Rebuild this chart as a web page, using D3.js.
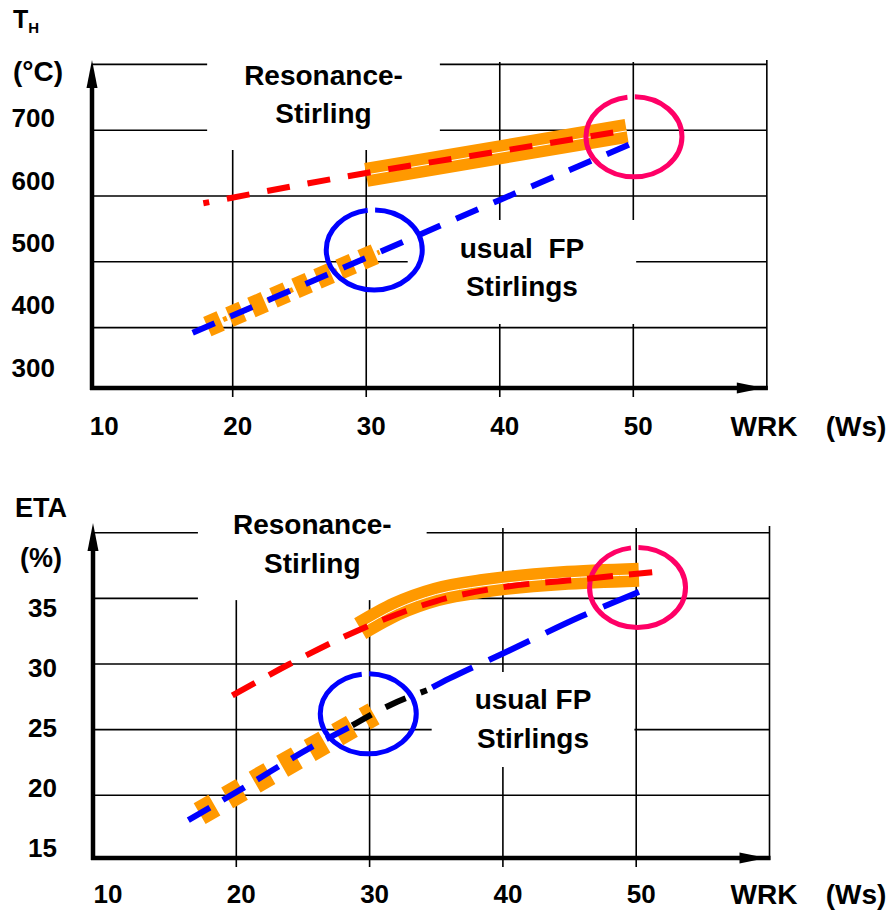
<!DOCTYPE html>
<html>
<head>
<meta charset="utf-8">
<title>Resonance-Stirling vs usual FP Stirlings</title>
<script src="https://cdn.jsdelivr.net/npm/d3@7"></script>
<style>
body { margin: 0; background: #fff; }
svg text { font-family: "Liberation Sans", Arial, sans-serif; font-weight: bold; fill: #000; }
</style>
</head>
<body>
<svg id="chart" width="887" height="910"></svg>
<script>
// work per cycle WRK (Ws), shared by both panels
var wrkTicks = [10, 20, 30, 40, 50];
var wrkGrid = [20, 30, 40, 50];

// top panel: heater temperature T_H (°C)
var thTicks = [300, 400, 500, 600, 700];
var thGrid = [400, 500, 600, 700, 800];
var thResonance = [[17.8, 589], [30, 635], [40, 668], [49.5, 700]];
var thResonanceBand = [[30, 632], [49.5, 699]];
var thUsual = [[17, 392], [30, 506], [40, 594], [50.5, 685]];
var thUsualBand = [[18.1, 401.6], [31, 514.8]];
var thCircles = [[30.6, 518, 'blue'], [50.05, 690, 'pink']];
var thNotes = [
  {lines: ['Resonance-', 'Stirling'], at: [26.8, 768.7]},
  {lines: ['usual  FP', 'Stirlings'], at: [41.66, 505.8]}
];

// bottom panel: efficiency ETA (%)
var etaTicks = [15, 20, 25, 30, 35];
var etaGrid = [20, 25, 30, 35, 40];
var etaResonance = [[19.7, 27.6], [24, 30.0], [29, 32.5], [35, 34.8], [40.3, 35.9], [45.3, 36.4], [51.2, 37.0]];
var etaResonanceBand = [[29.3, 32.7], [32, 34.2], [35, 35.3], [38.5, 35.95], [50.2, 36.8]];
var etaUsual = [[16.4, 18.1], [20.6, 20.6], [25.7, 23.7], [28.5, 25.2]];
var etaUsualExtra = [[28.5, 25.2], [31.6, 26.9], [34.3, 28.0]];
var etaUsualHigh = [[34.3, 28.0], [36, 28.9], [40, 30.8], [45.8, 33.6], [50.2, 35.5]];
var etaUsualBand = [[17.25, 18.6], [30.3, 26.2]];
var etaCircles = [[29.9, 26.2, 'blue'], [50.1, 35.83, 'pink']];
var etaNotes = [
  {lines: ['Resonance-', 'Stirling'], at: [25.7, 39.9]},
  {lines: ['usual FP', 'Stirlings'], at: [42.26, 26.57]}
];

var colors = {orange: '#ff9900', red: '#ff0000', blue: '#0000ff', pink: '#ff0066', black: '#000'};

var svg = d3.select('#chart');

function drawPanel(p) {
  var x = d3.scaleLinear().domain([20, 50]).range(p.xRange);
  var y = d3.scaleLinear().domain(p.yDomain).range(p.yRange);
  var yLab = d3.scaleLinear().domain(d3.extent(p.ticks)).range(p.labRange);
  var xRight = x(60);

  var g = svg.append('g');
  var gGrid = g.append('g').attr('stroke', '#000').attr('stroke-width', 1.6);
  var gBox = g.append('g');
  var gData = g.append('g').attr('fill', 'none');
  var gText = g.append('g');

  // grid
  gGrid.selectAll('.h').data(p.grid).enter().append('line')
    .attr('x1', p.axisX).attr('x2', xRight)
    .attr('y1', d => y(d)).attr('y2', d => y(d));
  gGrid.selectAll('.v').data(wrkGrid).enter().append('line')
    .attr('x1', d => x(d)).attr('x2', d => x(d))
    .attr('y1', p.gridTop).attr('y2', p.axisY + 9);
  gGrid.append('line').attr('x1', xRight).attr('x2', xRight)
    .attr('y1', p.gridTop - 2).attr('y2', p.axisY + 2);

  // annotations (measured first so their white boxes can hide the grid)
  p.notes.forEach(function(n, i) {
    var t = gText.append('text').attr('text-anchor', 'middle')
      .attr('font-size', 28).style('white-space', 'pre');
    n.lines.forEach(function(s, j) {
      t.append('tspan').attr('x', x(n.at[0])).attr('y', y(n.at[1]) + j * p.lineH).text(s);
    });
    var b = t.node().getBBox(), pad = p.pads[i];
    gBox.append('rect').attr('fill', '#fff')
      .attr('x', b.x - pad[3]).attr('y', b.y - pad[0])
      .attr('width', b.width + pad[1] + pad[3]).attr('height', b.height + pad[0] + pad[2]);
  });

  var line = d3.line().x(d => x(d[0])).y(d => y(d[1])).curve(d3.curveMonotoneX);

  // resonance band: thick orange with thin white core
  gData.append('path').attr('d', line(p.resBand)).attr('stroke', colors.orange).attr('stroke-width', 24);
  gData.append('path').attr('d', line(p.resBand)).attr('stroke', '#fff').attr('stroke-width', 1);

  // usual band: thick orange dashes
  gData.append('path').attr('d', line(p.usualBand)).attr('stroke', colors.orange)
    .attr('stroke-width', p.bandDash.w).attr('stroke-dasharray', p.bandDash.dash);
  if (p.bandDash.dots) {
    gData.append('path').attr('d', line(p.usualBand)).attr('stroke', colors.orange)
      .attr('stroke-width', 5).attr('stroke-dasharray', p.bandDash.dots).attr('stroke-dashoffset', -17.25);
  }

  // highlight circles, open at the top
  p.circles.forEach(function(c) {
    var rx = 48, ry = 40;
    var per = Math.PI * (3 * (rx + ry) - Math.sqrt((3 * rx + ry) * (rx + 3 * ry)));
    gData.append('ellipse').attr('cx', x(c[0])).attr('cy', y(c[1])).attr('rx', rx).attr('ry', ry)
      .attr('stroke', colors[c[2]]).attr('stroke-width', 5)
      .attr('stroke-dasharray', [per * 0.725, per * 0.027, per].join(' '));
  });

  p.series.forEach(function(s) {
    gData.append('path').attr('d', line(s.data)).attr('stroke', colors[s.color])
      .attr('stroke-width', 6).attr('stroke-dasharray', s.dash).attr('stroke-dashoffset', s.off || 0);
  });

  // axes with arrows
  var gAx = g.append('g');
  gAx.append('line').attr('x1', p.axisX).attr('x2', p.axisX)
    .attr('y1', p.axisY + 2).attr('y2', p.arrowTop + 20).attr('stroke', '#000').attr('stroke-width', 4.5);
  gAx.append('path').attr('d', d3.line()([[p.axisX - 5.5, p.arrowTop + 28], [p.axisX, p.arrowTop], [p.axisX + 5.5, p.arrowTop + 28]]) + 'Z');
  gAx.append('line').attr('x1', p.axisX - 2).attr('x2', xRight + 1)
    .attr('y1', p.axisY).attr('y2', p.axisY).attr('stroke', '#000').attr('stroke-width', 4.5);
  gAx.append('path').attr('d', d3.line()([[xRight - 30, p.axisY - 5.5], [xRight - 3, p.axisY], [xRight - 30, p.axisY + 5.5]]) + 'Z');

  // tick labels
  gText.selectAll('.yl').data(p.ticks).enter().append('text')
    .attr('text-anchor', 'end').attr('font-size', 26)
    .attr('x', p.yLabX).attr('y', d => yLab(d)).attr('dy', '0.36em').text(d => d);
  gText.selectAll('.xl').data(wrkTicks).enter().append('text')
    .attr('text-anchor', 'middle').attr('font-size', 26)
    .attr('x', d => x(d) + 5).attr('y', p.xLabY).attr('dy', '0.36em').text(d => d);
  gText.append('text').attr('text-anchor', 'middle').attr('font-size', 28)
    .attr('x', 764).attr('y', p.xLabY).attr('dy', '0.36em').text('WRK');
  gText.append('text').attr('text-anchor', 'middle').attr('font-size', 28)
    .attr('x', 856).attr('y', p.xLabY).attr('dy', '0.36em').text('(Ws)');
  return gText;
}

var topText = drawPanel({
  xRange: [232.7, 633.3], yDomain: [400, 800], yRange: [327.6, 64.4],
  ticks: thTicks, grid: thGrid, labRange: [367.5, 118],
  axisX: 92, axisY: 388, arrowTop: 60, gridTop: 62, xLabY: 426, yLabX: 55, lineH: 38,
  notes: thNotes, pads: [[4, 37, 21, 37], [13, 52, 22, 52]],
  resBand: thResonanceBand, usualBand: thUsualBand,
  bandDash: {w: 21, dash: '14.5 9.5', dots: '4 20'},
  circles: thCircles,
  series: [
    {data: thUsual, color: 'blue', dash: '24 17'},
    {data: thResonance, color: 'red', dash: '23 18', off: 17}
  ]
});
var tt = topText.append('text').attr('x', 13).attr('y', 28).attr('font-size', 25);
tt.append('tspan').text('T');
tt.append('tspan').attr('font-size', 15).attr('dy', 5).text('H');
topText.append('text').attr('x', 13).attr('y', 81).attr('font-size', 28).text('(°C)');

var botText = drawPanel({
  xRange: [236.3, 636.2], yDomain: [15, 40], yRange: [860.8, 532.8],
  ticks: etaTicks, grid: etaGrid, labRange: [848, 608],
  axisX: 93, axisY: 858, arrowTop: 523, gridTop: 528, xLabY: 894, yLabX: 57, lineH: 39,
  notes: etaNotes, pads: [[4, 35, 21, 35], [12, 43, 13, 43]],
  resBand: etaResonanceBand, usualBand: etaUsualBand,
  bandDash: {w: 24, dash: '17 14.7'},
  circles: etaCircles,
  series: [
    {data: etaUsual, color: 'blue', dash: '25 15'},
    {data: etaUsualExtra, color: 'black', dash: '22 16', off: -3},
    {data: etaUsualHigh, color: 'blue', dash: '45 18', off: -6},
    {data: etaResonance, color: 'red', dash: '26 16'}
  ]
});
botText.append('text').attr('x', 15).attr('y', 517).attr('font-size', 27).text('ETA');
botText.append('text').attr('x', 20).attr('y', 567).attr('font-size', 27).text('(%)');
</script>
</body>
</html>
